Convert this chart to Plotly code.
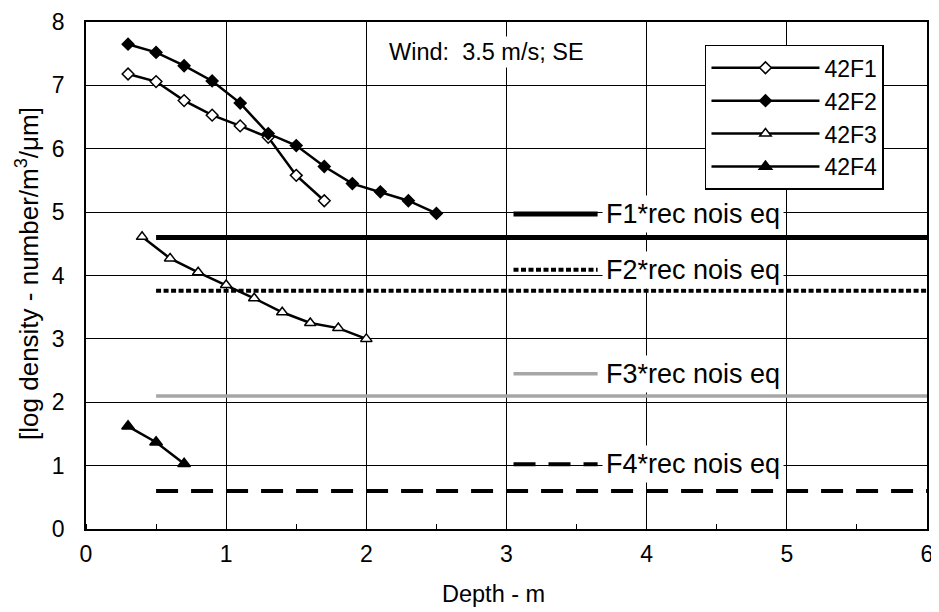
import plotly.graph_objects as go

# ---- data ----
x_42F1 = [0.3, 0.5, 0.7, 0.9, 1.1, 1.3, 1.5, 1.7]
y_42F1 = [7.18, 7.06, 6.76, 6.53, 6.36, 6.18, 5.58, 5.18]

x_42F2 = [0.3, 0.5, 0.7, 0.9, 1.1, 1.3, 1.5, 1.7, 1.9, 2.1, 2.3, 2.5]
y_42F2 = [7.65, 7.52, 7.31, 7.07, 6.72, 6.24, 6.05, 5.72, 5.45, 5.32, 5.18, 4.98]

x_42F3 = [0.4, 0.6, 0.8, 1.0, 1.2, 1.4, 1.6, 1.8, 2.0]
y_42F3 = [4.61, 4.27, 4.05, 3.85, 3.64, 3.42, 3.25, 3.17, 3.0]

x_42F4 = [0.3, 0.5, 0.7]
y_42F4 = [1.62, 1.37, 1.03]

noise_x = [0.5, 6.0]
noise_names = ["F1*rec nois eq", "F2*rec nois eq", "F3*rec nois eq", "F4*rec nois eq"]
noise_levels = [4.6, 3.76, 2.1, 0.6]
label_y = [4.97, 4.09, 2.45, 1.02]
label_x0, label_x1 = 3.05, 3.65

x_ticks = [0, 1, 2, 3, 4, 5, 6]
y_ticks = [0, 1, 2, 3, 4, 5, 6, 7, 8]

x_title = "Depth - m"
y_title = "[log density - number/m<sup>3</sup>/\u03bcm]"

FONT = "Liberation Sans, Arial, Helvetica, sans-serif"

noise_styles = [
    dict(color="black", width=5, dash="solid"),
    dict(color="black", width=4, dash="5px,2.5px"),
    dict(color="#a6a6a6", width=3.5, dash="solid"),
    dict(color="black", width=4, dash="22px,13px"),
]

fig = go.Figure()

series = [
    ("42F1", x_42F1, y_42F1, "diamond", 9, "white"),
    ("42F2", x_42F2, y_42F2, "diamond", 9, "black"),
    ("42F3", x_42F3, y_42F3, "triangle-up", 10, "white"),
    ("42F4", x_42F4, y_42F4, "triangle-up", 11, "black"),
]
for name, xs, ys, sym, size, fill in series:
    fig.add_trace(go.Scatter(
        x=xs, y=ys, name=name, mode="lines+markers",
        line=dict(color="black", width=2.5),
        marker=dict(symbol=sym, size=size, color=fill,
                    line=dict(color="black", width=1.5)),
    ))

for name, lvl, st in zip(noise_names, noise_levels, noise_styles):
    fig.add_trace(go.Scatter(
        x=noise_x, y=[lvl, lvl], mode="lines", name=name, showlegend=False,
        line=st, hoverinfo="skip",
    ))

# in-plot labels for noise lines (sample line + text)
for name, ly, st in zip(noise_names, label_y, noise_styles):
    fig.add_shape(type="line", x0=label_x0, x1=label_x1, y0=ly, y1=ly,
                  xref="x", yref="y", line=st, layer="above")
    fig.add_annotation(x=label_x1 + 0.03, y=ly, xref="x", yref="y", text=name,
                       showarrow=False, xanchor="left", yanchor="middle",
                       font=dict(family=FONT, size=27, color="black"),
                       bgcolor="white", borderpad=3)

fig.add_annotation(x=2.86, y=7.52, xref="x", yref="y", text="Wind:  3.5 m/s; SE",
                   showarrow=False, xanchor="center", yanchor="middle",
                   font=dict(family=FONT, size=23.5, color="black"),
                   bgcolor="white", borderpad=2)

# axis titles
fig.add_annotation(x=0.4847, y=-0.128, xref="paper", yref="paper", text=x_title,
                   showarrow=False, xanchor="center", yanchor="middle",
                   font=dict(family=FONT, size=23.5, color="black"))
fig.add_annotation(x=-0.069, y=0.505, xref="paper", yref="paper", text=y_title,
                   showarrow=False, xanchor="center", yanchor="middle", textangle=-90,
                   font=dict(family=FONT, size=26, color="black"))

fig.update_layout(
    width=931, height=604,
    margin=dict(l=78, r=12, t=14, b=83),
    paper_bgcolor="white", plot_bgcolor="white",
    font=dict(family=FONT, color="black"),
    showlegend=True,
    legend=dict(
        x=0.736, y=0.955, xanchor="left", yanchor="top",
        bgcolor="white", bordercolor="black", borderwidth=1.5,
        font=dict(family=FONT, size=23, color="black"),
        itemwidth=108, tracegroupgap=0,
    ),
    xaxis=dict(
        range=[0, 6], tickvals=x_ticks, ticktext=[str(v) for v in x_ticks],
        showgrid=True, gridcolor="black", gridwidth=1.3,
        showline=True, linecolor="black", linewidth=1.5, mirror=True,
        zeroline=False, ticks="", tickfont=dict(size=23),
        ticklabelstandoff=4, automargin=False,
        minor=dict(ticks="inside", dtick=0.5, ticklen=5, tickcolor="black", showgrid=False),
    ),
    yaxis=dict(
        range=[0, 8], tickvals=y_ticks, ticktext=[str(v) for v in y_ticks],
        showgrid=True, gridcolor="black", gridwidth=1.3,
        showline=True, linecolor="black", linewidth=1.5, mirror=True,
        zeroline=False, ticks="", tickfont=dict(size=23),
        ticklabelstandoff=15, automargin=False,
    ),
)

fig.write_html("out.html")
